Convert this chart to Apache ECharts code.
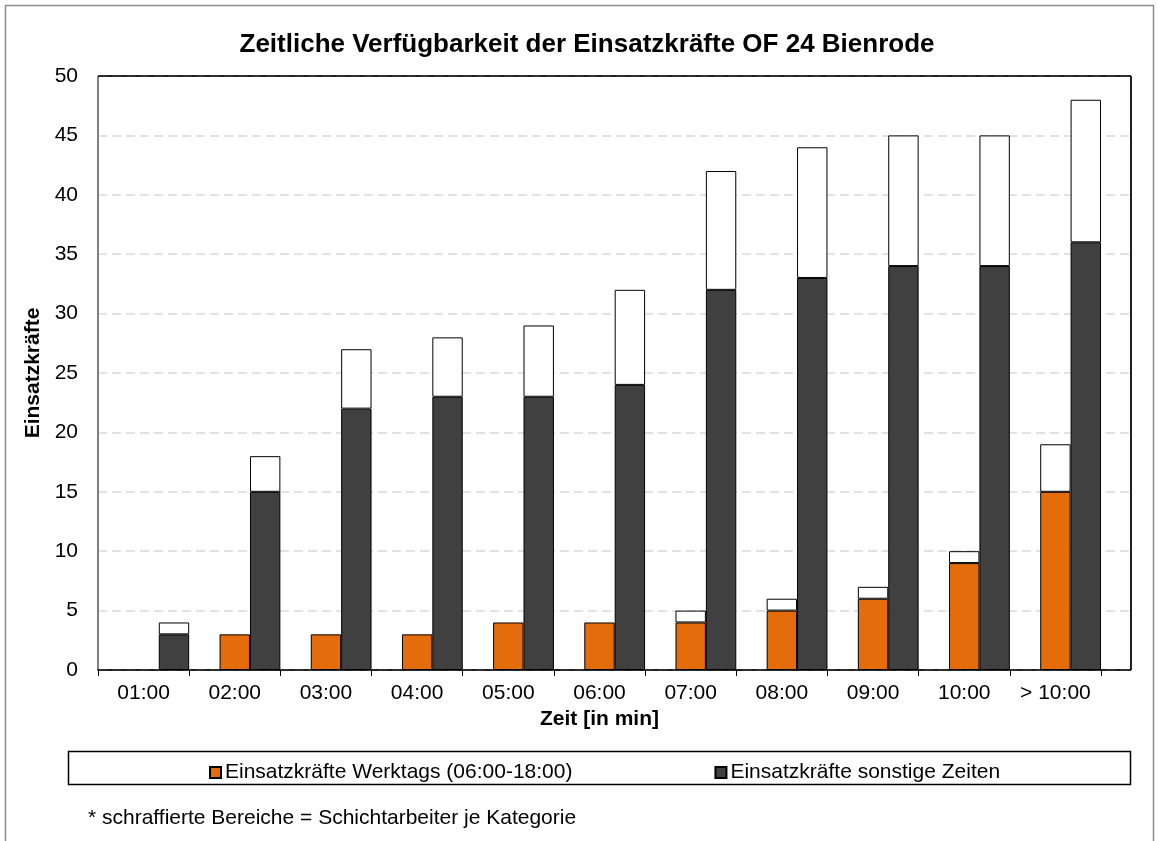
<!DOCTYPE html>
<html>
<head>
<meta charset="utf-8">
<script src="https://cdn.jsdelivr.net/npm/echarts@6/dist/echarts.min.js"></script>
<style>
html,body{margin:0;padding:0;background:#fff;}
#c{width:1158px;height:841px;}
</style>
</head>
<body>
<div id="c"></div>
<script>
const categories = ['01:00','02:00','03:00','04:00','05:00','06:00','07:00','08:00','09:00','10:00','> 10:00'];
const werktags = [0,3,3,3,4,4,4,5,6,9,15];
const werktagsSchicht = [0,0,0,0,0,0,1,1,1,1,4];
const sonstige = [3,15,22,23,23,24,32,33,34,34,36];
const sonstigeSchicht = [1,3,5,5,6,8,10,11,11,11,12];
const yTicks = {min:0, max:50, interval:5};

const F = 'Liberation Sans, Arial, sans-serif';
const nz = a => a.map(v => v === 0 ? null : v);
const border = {borderColor:'#000', borderWidth:1};

const chart = echarts.init(document.getElementById('c'));
chart.setOption({
  animation:false,
  textStyle:{fontFamily:F},
  title:{
    text:'Zeitliche Verfügbarkeit der Einsatzkräfte OF 24 Bienrode',
    left:582, top:27, textAlign:'center',
    textStyle:{fontFamily:F, fontSize:26, fontWeight:'bold', color:'#000'}
  },
  graphic:[
    {type:'rect', shape:{x:5.5,y:5.5,width:1148,height:900}, style:{fill:'none', stroke:'#8c8c8c', lineWidth:1.5}, z:-10},
    {type:'line', shape:{x1:98,y1:76,x2:1131,y2:76}, style:{stroke:'#000', lineWidth:1.5}, z:100},
    {type:'line', shape:{x1:1131,y1:76,x2:1131,y2:670}, style:{stroke:'#000', lineWidth:1.5}, z:100},
    {type:'line', shape:{x1:1100,y1:670,x2:1131,y2:670}, style:{stroke:'#000', lineWidth:1.5}, z:100},
    {type:'rect', shape:{x:68.5,y:751.5,width:1062,height:33}, style:{fill:'none', stroke:'#000', lineWidth:1.5}},
    {type:'text', left:88, top:808, style:{text:'* schraffierte Bereiche = Schichtarbeiter je Kategorie', font:'21px '+F, fill:'#000'}}
  ],
  legend:{
    data:['Einsatzkräfte Werktags (06:00-18:00)','Einsatzkräfte sonstige Zeiten'],
    left:204, top:757, itemGap:142, itemWidth:11, itemHeight:11,
    icon:'rect',
    textStyle:{fontFamily:F, fontSize:21, color:'#000', padding:[0,0,0,-1]}
  },
  grid:[
    {left:98, top:76, width:1033, height:594, show:true, borderColor:'#000', borderWidth:1, backgroundColor:'transparent'},
    {left:98, top:76, width:1003, height:594}
  ],
  xAxis:[
    {gridIndex:0, type:'value', show:false, min:0, max:1},
    {gridIndex:1, type:'category', data:categories,
     axisLine:{lineStyle:{color:'#000', width:1.5}},
     axisTick:{show:true, interval:0, length:6, lineStyle:{color:'#000'}},
     axisLabel:{interval:0, hideOverlap:false, fontFamily:F, fontSize:21, color:'#000', margin:13},
     name:'Zeit [in min]', nameLocation:'middle', nameGap:37,
     nameTextStyle:{fontFamily:F, fontSize:21, fontWeight:'bold', color:'#000'}}
  ],
  yAxis:[
    {gridIndex:0, type:'value', min:yTicks.min, max:yTicks.max, interval:yTicks.interval,
     axisLine:{show:true, lineStyle:{color:'#808080'}},
     axisTick:{show:false},
     axisLabel:{fontFamily:F, fontSize:21, color:'#000', margin:20},
     splitLine:{lineStyle:{color:'#d9d9d9', type:[9,5], width:1.5}},
     name:'Einsatzkräfte', nameLocation:'middle', nameGap:54, nameRotate:90,
     nameTextStyle:{fontFamily:F, fontSize:21, fontWeight:'bold', color:'#000'}},
    {gridIndex:1, type:'value', min:yTicks.min, max:yTicks.max, interval:yTicks.interval, show:false, splitLine:{show:false}}
  ],
  series:[
    {name:'_pad', type:'bar', xAxisIndex:1, yAxisIndex:1, stack:'p', data:categories.map(()=>null),
     barCategoryGap:'0%', barGap:'0%'},
    {name:'Einsatzkräfte Werktags (06:00-18:00)', type:'bar', xAxisIndex:1, yAxisIndex:1, stack:'w',
     data:nz(werktags), itemStyle:Object.assign({color:'#E46C0A'}, border), barGap:'0%'},
    {name:'Schicht Werktags', type:'bar', xAxisIndex:1, yAxisIndex:1, stack:'w',
     data:nz(werktagsSchicht), itemStyle:Object.assign({color:'#fff'}, border)},
    {name:'Einsatzkräfte sonstige Zeiten', type:'bar', xAxisIndex:1, yAxisIndex:1, stack:'s',
     data:nz(sonstige), itemStyle:Object.assign({color:'#404040'}, border)},
    {name:'Schicht sonstige', type:'bar', xAxisIndex:1, yAxisIndex:1, stack:'s',
     data:nz(sonstigeSchicht), itemStyle:Object.assign({color:'#fff'}, border)}
  ]
});
</script>
</body>
</html>
